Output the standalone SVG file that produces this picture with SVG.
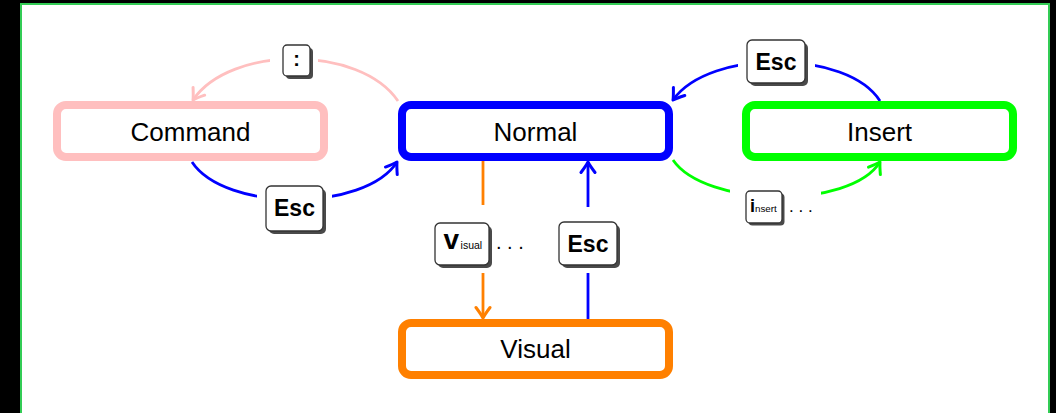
<svg xmlns="http://www.w3.org/2000/svg" width="1056" height="413" viewBox="0 0 1056 413">
  <style>
    .node { fill: #ffffff; stroke-width: 8; }
    .ntext { font-family: "Liberation Sans", Arial, sans-serif; font-size: 26px; fill: #000; text-anchor: middle; }
    .edge { fill: none; stroke-width: 2.8; }
    .gap { fill: #ffffff; }
    .keyshadow { fill: #4a4a4a; }
    .key { fill: #ffffff; stroke: #333333; stroke-width: 1.3; }
    .kbold { font-family: "Liberation Sans", Arial, sans-serif; font-weight: bold; fill: #000; }
    .ksmall { font-family: "Liberation Sans", Arial, sans-serif; fill: #000; }
    .dots { font-family: "Liberation Sans", Arial, sans-serif; fill: #000; }
    .tip { fill: none; stroke-width: 3; stroke-linecap: round; stroke-linejoin: round; }
  </style>
  <defs>
    <marker id="ah-blue" viewBox="-13 -9 15 18" refX="0" refY="0" markerWidth="15" markerHeight="18" markerUnits="userSpaceOnUse" orient="auto">
      <path class="tip" d="M -10.5,-7 Q -3.5,-1.8 0,0 Q -3.5,1.8 -10.5,7" stroke="#0000ff"/>
    </marker>
    <marker id="ah-pink" viewBox="-13 -9 15 18" refX="0" refY="0" markerWidth="15" markerHeight="18" markerUnits="userSpaceOnUse" orient="auto">
      <path class="tip" d="M -10.5,-7 Q -3.5,-1.8 0,0 Q -3.5,1.8 -10.5,7" stroke="#ffbfbf"/>
    </marker>
    <marker id="ah-green" viewBox="-13 -9 15 18" refX="0" refY="0" markerWidth="15" markerHeight="18" markerUnits="userSpaceOnUse" orient="auto">
      <path class="tip" d="M -10.5,-7 Q -3.5,-1.8 0,0 Q -3.5,1.8 -10.5,7" stroke="#00ff00"/>
    </marker>
    <marker id="ah-orange" viewBox="-13 -9 15 18" refX="0" refY="0" markerWidth="15" markerHeight="18" markerUnits="userSpaceOnUse" orient="auto">
      <path class="tip" d="M -10.5,-7 Q -3.5,-1.8 0,0 Q -3.5,1.8 -10.5,7" stroke="#ff8000"/>
    </marker>
  </defs>

  <rect x="0" y="0" width="1056" height="413" fill="#000000"/>
  <rect x="21" y="4" width="1028" height="420" fill="#ffffff" stroke="#33cc55" stroke-width="2"/>

  <g id="connectors">
    <!-- Normal -> Command (:) -->
    <g id="edge-normal-command">
      <path class="edge" stroke="#ffbfbf" d="M 398,101 C 360,45 230,45 193,100" marker-end="url(#ah-pink)"/>
      <rect class="gap" x="270" y="38" width="48" height="48"/>
      <rect class="keyshadow" x="286" y="48" width="27" height="31" rx="4"/>
      <rect class="key" x="283" y="45" width="27" height="31" rx="4"/>
      <text class="kbold" x="296.5" y="66" font-size="20" text-anchor="middle">:</text>
    </g>
    <!-- Command -> Normal (Esc) -->
    <g id="edge-command-normal">
      <path class="edge" stroke="#0000ff" d="M 192,162 C 225,212 365,212 397,162" marker-end="url(#ah-blue)"/>
      <rect class="gap" x="257" y="180" width="75" height="60"/>
      <rect class="keyshadow" x="269" y="189" width="57" height="45" rx="5"/>
      <rect class="key" x="266" y="186" width="57" height="45" rx="5"/>
      <text class="kbold" x="294.5" y="216" font-size="23" text-anchor="middle">Esc</text>
    </g>
    <!-- Insert -> Normal (Esc) -->
    <g id="edge-insert-normal">
      <path class="edge" stroke="#0000ff" d="M 880,101 C 848,50 710,48 673,100" marker-end="url(#ah-blue)"/>
      <rect class="gap" x="738" y="30" width="77" height="64"/>
      <rect class="keyshadow" x="750" y="43" width="58" height="43" rx="5"/>
      <rect class="key" x="747" y="40" width="58" height="43" rx="5"/>
      <text class="kbold" x="776" y="70" font-size="23" text-anchor="middle">Esc</text>
    </g>
    <!-- Normal -> Insert (insert ...) -->
    <g id="edge-normal-insert">
      <path class="edge" stroke="#00ff00" d="M 673,160 C 705,207 850,210 880,162" marker-end="url(#ah-green)"/>
      <rect class="gap" x="730" y="183" width="91" height="48"/>
      <rect class="keyshadow" x="748.5" y="193.5" width="36" height="32" rx="4"/>
      <rect class="key" x="746" y="191" width="36" height="32" rx="4"/>
      <text x="750" y="212.3"><tspan class="kbold" font-size="18">i</tspan><tspan class="ksmall" font-size="9.8">nsert</tspan></text>
      <text class="dots" x="789" y="212.3" font-size="17">. . .</text>
    </g>
    <!-- Normal -> Visual (v isual ...) -->
    <g id="edge-normal-visual">
      <path class="edge" stroke="#ff8000" d="M 483,160 L 483,318" marker-end="url(#ah-orange)"/>
      <rect class="gap" x="430" y="205" width="100" height="68"/>
      <rect class="keyshadow" x="438" y="226" width="54" height="42" rx="5"/>
      <rect class="key" x="435" y="223" width="54" height="42" rx="5"/>
      <text x="443.5" y="249.3"><tspan class="kbold" font-size="28">v</tspan><tspan class="ksmall" font-size="10.5" dx="1.5">isual</tspan></text>
      <text class="dots" x="496" y="249.3" font-size="20">. . .</text>
    </g>
    <!-- Visual -> Normal (Esc) -->
    <g id="edge-visual-normal">
      <path class="edge" stroke="#0000ff" d="M 588,320 L 588,162" marker-end="url(#ah-blue)"/>
      <rect class="gap" x="555" y="207" width="66" height="66"/>
      <rect class="keyshadow" x="562" y="225" width="58" height="43" rx="5"/>
      <rect class="key" x="559" y="222" width="58" height="43" rx="5"/>
      <text class="kbold" x="588" y="252" font-size="23" text-anchor="middle">Esc</text>
    </g>
  </g>

  <g id="command">
    <rect class="node" stroke="#ffbfbf" x="57" y="105" width="267" height="52" rx="9"/>
    <text class="ntext" x="190.5" y="141">Command</text>
  </g>
  <g id="normal">
    <rect class="node" stroke="#0000ff" x="402" y="105" width="267" height="52" rx="9"/>
    <text class="ntext" x="535.5" y="141">Normal</text>
  </g>
  <g id="insert">
    <rect class="node" stroke="#00ff00" x="746" y="105" width="267" height="52" rx="9"/>
    <text class="ntext" x="879.5" y="141">Insert</text>
  </g>
  <g id="visual">
    <rect class="node" stroke="#ff8000" x="402" y="323" width="267" height="52" rx="9"/>
    <text class="ntext" x="535.5" y="358">Visual</text>
  </g>
</svg>
